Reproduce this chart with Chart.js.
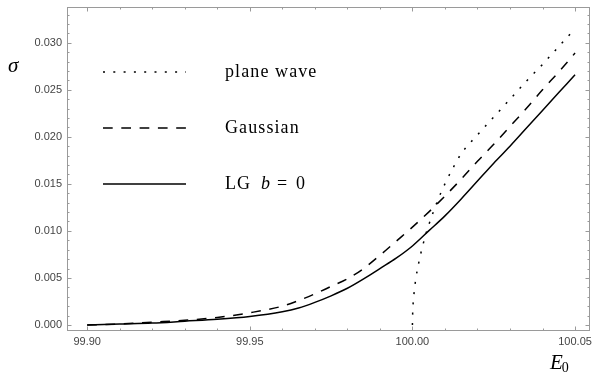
<!DOCTYPE html>
<html>
<head>
<meta charset="utf-8">
<script src="https://cdn.jsdelivr.net/npm/chart.js@4/dist/chart.umd.min.js"></script>
<style>
  html, body { margin: 0; padding: 0; background: #fff; }
  #wrap { width: 594px; height: 373px; }
</style>
</head>
<body>
<div id="wrap"><canvas id="sigmaChart"></canvas></div>
<script>
// values
const energyGrid = [99.900, 99.910, 99.920, 99.930, 99.940, 99.950, 99.960, 99.965, 99.970, 99.975,
    99.980, 99.985, 99.990, 99.995, 100.000, 100.005, 100.010, 100.015, 100.020, 100.025,
    100.030, 100.035, 100.040, 100.045, 100.050];
const lgSigma = [0.0000, 0.0001, 0.0002, 0.0004, 0.0006, 0.0009, 0.0014, 0.0018, 0.0024, 0.0031,
    0.0039, 0.0049, 0.0060, 0.0071, 0.0084, 0.0100, 0.0116, 0.0134, 0.0153, 0.0172,
    0.0190, 0.0209, 0.0228, 0.0247, 0.0266];
const gaussSigma = [0.0000, 0.0001, 0.0003, 0.0005, 0.0008, 0.0013, 0.0020, 0.0026, 0.0033, 0.0041,
    0.0049, 0.0060, 0.0074, 0.0089, 0.0104, 0.0120, 0.0137, 0.0155, 0.0174, 0.0192,
    0.0211, 0.0230, 0.0250, 0.0269, 0.0289];

const planeE = [100.0000, 100.0001, 100.0003, 100.0006, 100.001, 100.002, 100.003, 100.004, 100.005,
    100.0075, 100.010, 100.0125, 100.015, 100.020, 100.025, 100.030, 100.035, 100.040, 100.045, 100.050];
const planeSigma = [0.0000, 0.0015, 0.0026, 0.0037, 0.0048, 0.0067, 0.0082, 0.0095, 0.0106,
    0.0130, 0.0150, 0.0167, 0.0182, 0.0202, 0.0221, 0.0240, 0.0259, 0.0277, 0.0296, 0.0315];

const seriesNames = ['plane wave', 'Gaussian', 'LG b = 0'];

const dotted = [2, 8.3];
const dashed = [9.7, 8.6];

const toPoints = (xs, ys) => xs.map((x, i) => ({ x: x, y: ys[i] }));

const lineBase = {
    borderColor: '#000',
    borderWidth: 1.5,
    pointRadius: 0,
    fill: false,
    cubicInterpolationMode: 'monotone'
};

const serif = '"Liberation Serif", "DejaVu Serif", serif';

// frame with inward ticks, Mathematica style
const framePlugin = {
    id: 'frame',
    afterDatasetsDraw(chart) {
        const ctx = chart.ctx;
        const a = chart.chartArea;
        const xs = chart.scales.x, ys = chart.scales.y;
        ctx.save();
        ctx.strokeStyle = '#9a9a9a';
        ctx.lineWidth = 1;
        ctx.strokeRect(a.left + 0.5, a.top + 0.5, a.right - a.left - 1, a.bottom - a.top - 1);

        ctx.beginPath();
        for (let v = 99.90; v <= 100.0501; v += 0.01) {
            const px = Math.round(xs.getPixelForValue(v)) + 0.5;
            const major = Math.abs(Math.round(v * 20) - v * 20) < 1e-6;
            const len = major ? 4.5 : 2.5;
            ctx.moveTo(px, a.bottom); ctx.lineTo(px, a.bottom - len);
            ctx.moveTo(px, a.top); ctx.lineTo(px, a.top + len);
        }
        for (let i = 0; i <= 33; i++) {
            const v = i * 0.001;
            const py = Math.round(ys.getPixelForValue(v)) + 0.5;
            const len = i % 5 === 0 ? 4.5 : 2.5;
            ctx.moveTo(a.left, py); ctx.lineTo(a.left + len, py);
            ctx.moveTo(a.right, py); ctx.lineTo(a.right - len, py);
        }
        ctx.stroke();
        ctx.restore();
    },
    afterDraw(chart) {
        const ctx = chart.ctx;
        ctx.save();
        // legend
        const rows = [
            { y: 72, dash: dotted },
            { y: 128, dash: dashed },
            { y: 184, dash: [] }
        ];
        ctx.strokeStyle = '#000';
        ctx.lineWidth = 1.5;
        rows.forEach(r => {
            ctx.setLineDash(r.dash);
            ctx.beginPath();
            ctx.moveTo(103, r.y);
            ctx.lineTo(186, r.y);
            ctx.stroke();
        });
        ctx.setLineDash([]);
        ctx.fillStyle = '#000';
        ctx.textBaseline = 'alphabetic';
        ctx.letterSpacing = '1.1px';
        ctx.font = '18px ' + serif;
        ctx.fillText(seriesNames[0], 225, 77);
        ctx.fillText(seriesNames[1], 225, 133);
        ctx.fillText('LG', 225, 189);
        ctx.font = 'italic 18px ' + serif;
        ctx.fillText('b', 261, 189);
        ctx.font = '18px ' + serif;
        ctx.fillText('=', 277, 189);
        ctx.fillText('0', 296, 189);
        ctx.letterSpacing = '0px';

        // axis labels
        ctx.font = 'italic 21px ' + serif;
        ctx.fillText('\u03c3', 8, 72);
        ctx.fillText('E', 550, 369);
        const ew = ctx.measureText('E').width;
        ctx.font = '14px ' + serif;
        ctx.fillText('0', 550 + ew - 1, 372);
        ctx.restore();
    }
};

const sigmaChart = new Chart(document.getElementById('sigmaChart'), {
    type: 'line',
    data: {
        datasets: [
            Object.assign({ label: seriesNames[0], data: toPoints(planeE, planeSigma), borderDash: dotted }, lineBase),
            Object.assign({ label: seriesNames[1], data: toPoints(energyGrid, gaussSigma), borderDash: dashed }, lineBase),
            Object.assign({ label: seriesNames[2], data: toPoints(energyGrid, lgSigma) }, lineBase)
        ]
    },
    options: {
        responsive: true,
        maintainAspectRatio: false,
        animation: false,
        layout: { padding: { left: 0, right: 4, top: 7, bottom: 0 } },
        plugins: {
            legend: { display: false },
            tooltip: { enabled: false }
        },
        scales: {
            x: {
                type: 'linear',
                min: 99.8938,
                max: 100.0546,
                grid: { display: false, drawTicks: false },
                border: { display: false },
                afterFit: s => { s.height = 42; s.paddingLeft = 0; s.paddingRight = 0; },
                ticks: {
                    stepSize: 0.05,
                    includeBounds: false,
                    maxRotation: 0,
                    padding: 4,
                    color: '#444',
                    font: { family: '"Liberation Sans", Arial, sans-serif', size: 11 },
                    callback: v => v.toFixed(2)
                }
            },
            y: {
                type: 'linear',
                min: -0.00064,
                max: 0.0338,
                grid: { display: false, drawTicks: false },
                border: { display: false },
                afterFit: s => { s.width = 67; s.paddingTop = 0; s.paddingBottom = 0; },
                ticks: {
                    stepSize: 0.005,
                    includeBounds: false,
                    padding: 5,
                    color: '#444',
                    font: { family: '"Liberation Sans", Arial, sans-serif', size: 11 },
                    callback: v => v.toFixed(3)
                }
            }
        }
    },
    plugins: [framePlugin]
});
</script>
</body>
</html>
